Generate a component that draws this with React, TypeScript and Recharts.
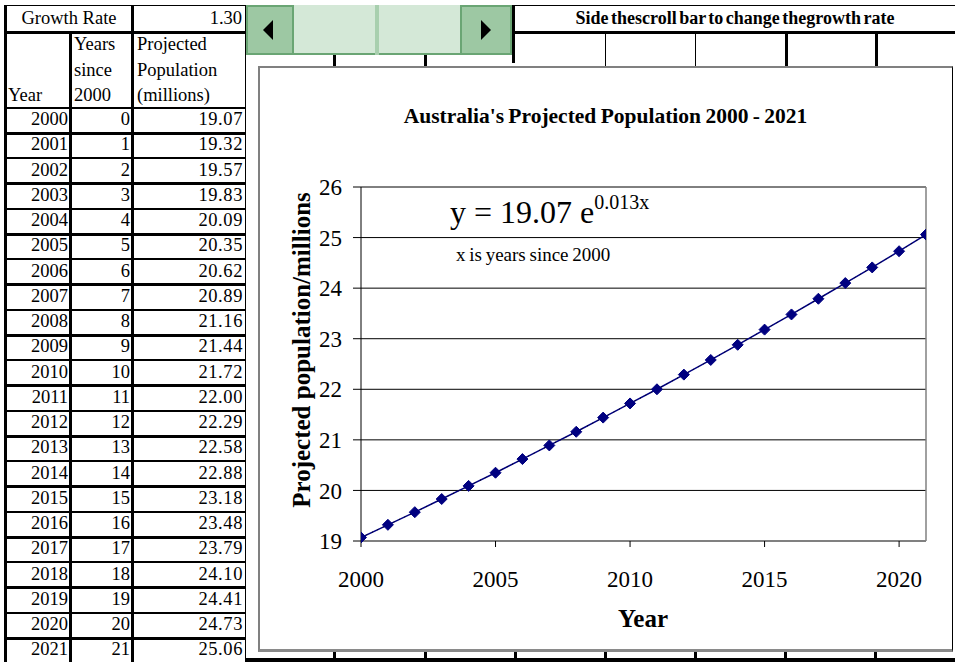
import { LineChart, Line, XAxis, YAxis, CartesianGrid, ReferenceLine } from "recharts";

const YEARS = [2000, 2001, 2002, 2003, 2004, 2005, 2006, 2007, 2008, 2009, 2010, 2011, 2012, 2013, 2014, 2015, 2016, 2017, 2018, 2019, 2020, 2021];
const YEARS_SINCE = [0, 1, 2, 3, 4, 5, 6, 7, 8, 9, 10, 11, 12, 13, 14, 15, 16, 17, 18, 19, 20, 21];
const POPULATION = [19.07, 19.32, 19.57, 19.83, 20.09, 20.35, 20.62, 20.89, 21.16, 21.44, 21.72, 22.0, 22.29, 22.58, 22.88, 23.18, 23.48, 23.79, 24.1, 24.41, 24.73, 25.06];
const X_TICKS = [2000, 2005, 2010, 2015, 2020];
const Y_TICKS = [19, 20, 21, 22, 23, 24, 25, 26];
const GROWTH_RATE = "1.30";

const data = YEARS.map((y, i) => ({ year: y, pop: POPULATION[i] }));

const FONT = '"Liberation Serif", "Times New Roman", serif';
const ROW_TOP = 108;
const ROW_H = 25.25;
const FS = 18.5;

function Diamond({ cx, cy }: any) {
  if (cx == null || cy == null) return null;
  const r = 5.5;
  return (
    <polygon
      points={`${cx},${cy - r} ${cx + r},${cy} ${cx},${cy + r} ${cx - r},${cy}`}
      fill="#000080"
      stroke="#000080"
    />
  );
}

const abs = (left: number, top: number, extra: any = {}) => ({
  position: "absolute" as const,
  left,
  top,
  ...extra,
});

function Table() {
  const cells: any[] = [];
  // grid lines of the sheet
  cells.push(<div key="vl0" style={abs(4, 6, { width: 3, height: 656, background: "#000" })} />);
  cells.push(<div key="vl1" style={abs(69, 31, { width: 3, height: 631, background: "#000" })} />);
  cells.push(<div key="vl2" style={abs(131, 6, { width: 3, height: 656, background: "#000" })} />);
  cells.push(<div key="vl3" style={abs(245, 6, { width: 1, height: 656, background: "#000" })} />);
  cells.push(<div key="top" style={abs(4, 5, { width: 242, height: 1, background: "#000" })} />);
  cells.push(<div key="gr" style={abs(4, 31, { width: 242, height: 3, background: "#000" })} />);
  cells.push(<div key="hd" style={abs(4, ROW_TOP - 1, { width: 242, height: 2, background: "#000" })} />);

  cells.push(
    <div key="grt" style={abs(7, 8, { width: 124, textAlign: "center", fontSize: FS })}>
      Growth Rate
    </div>
  );
  cells.push(
    <div key="grv" style={abs(134, 8, { width: 108, textAlign: "right", fontSize: FS })}>
      {GROWTH_RATE}
    </div>
  );
  const hdr = [
    ["", "Years", "Projected"],
    ["", "since", "Population"],
    ["Year", "2000", "(millions)"],
  ];
  hdr.forEach((row, r) => {
    const top = 34 + r * 25.5;
    cells.push(<div key={`h0${r}`} style={abs(8, top, { fontSize: FS })}>{row[0]}</div>);
    cells.push(<div key={`h1${r}`} style={abs(74, top, { fontSize: FS })}>{row[1]}</div>);
    cells.push(<div key={`h2${r}`} style={abs(137, top, { fontSize: FS })}>{row[2]}</div>);
  });

  YEARS.forEach((y, i) => {
    const top = ROW_TOP + i * ROW_H;
    cells.push(
      <div key={`ry${i}`} style={abs(7, top + 1, { width: 61, textAlign: "right", fontSize: FS })}>{y}</div>
    );
    cells.push(
      <div key={`rs${i}`} style={abs(72, top + 1, { width: 58, textAlign: "right", fontSize: FS })}>{YEARS_SINCE[i]}</div>
    );
    cells.push(
      <div key={`rp${i}`} style={abs(134, top + 1, { width: 109, textAlign: "right", fontSize: FS, letterSpacing: 0.6 })}>
        {POPULATION[i].toFixed(2)}
      </div>
    );
    cells.push(
      <div
        key={`rl${i}`}
        style={abs(4, top + ROW_H - 1.5, { width: 242, height: i % 2 === 0 ? 3 : 2, background: "#000" })}
      />
    );
  });
  return <>{cells}</>;
}

function ScrollBar() {
  const dark = "#9dc8a3";
  const light = "#d4e8d7";
  const edge = "#6aa574";
  return (
    <>
      <div style={abs(246, 5, { width: 266, height: 50, background: light, borderBottom: `2px solid ${edge}`, boxSizing: "border-box" })} />
      <div style={abs(246, 5, { width: 48, height: 50, background: dark, border: `2px solid ${edge}`, boxSizing: "border-box" })} />
      <div style={abs(375, 5, { width: 4, height: 50, background: "#a8cfae" })} />
      <div style={abs(460, 5, { width: 52, height: 50, background: dark, border: `2px solid ${edge}`, boxSizing: "border-box" })} />
      <div
        style={abs(263, 20, {
          width: 0,
          height: 0,
          borderTop: "10px solid transparent",
          borderBottom: "10px solid transparent",
          borderRight: "10px solid #000",
        })}
      />
      <div
        style={abs(481, 20, {
          width: 0,
          height: 0,
          borderTop: "10px solid transparent",
          borderBottom: "10px solid transparent",
          borderLeft: "10px solid #000",
        })}
      />
    </>
  );
}

function SheetGrid() {
  const els: any[] = [];
  els.push(<div key="hb" style={abs(513, 5, { width: 442, height: 1, background: "#000" })} />);
  els.push(<div key="hl" style={abs(512, 5, { width: 3, height: 58, background: "#000" })} />);
  els.push(<div key="hu" style={abs(513, 31, { width: 442, height: 3, background: "#000" })} />);
  els.push(
    <div key="ht" style={abs(515, 8, { width: 440, textAlign: "center", fontSize: 18, fontWeight: "bold", wordSpacing: -2 })}>
      Side thescroll bar to change thegrowth rate
    </div>
  );
  [
    [605, 1],
    [695, 1],
    [785, 3],
    [875, 3],
  ].forEach(([x, w], i) => {
    els.push(<div key={`gv${i}`} style={abs(x, 34, { width: w, height: 32, background: "#000" })} />);
  });
  [333, 424].forEach((x, i) => {
    els.push(<div key={`tt${i}`} style={abs(x, 55, { width: 3, height: 11, background: "#000" })} />);
  });
  [333, 424, 514, 604, 694, 784, 874].forEach((x, i) => {
    els.push(<div key={`bt${i}`} style={abs(x, 652, { width: 3, height: 8, background: "#000" })} />);
  });
  els.push(<div key="bl" style={abs(246, 658, { width: 709, height: 4, background: "#000" })} />);
  return <>{els}</>;
}

export default function App() {
  const tickStyle = { fill: "#000", fontSize: 23, fontFamily: FONT };
  return (
    <div
      style={{
        position: "absolute",
        left: 0,
        top: 0,
        width: 955,
        height: 662,
        background: "#fff",
        fontFamily: FONT,
        color: "#000",
        overflow: "hidden",
      }}
    >
      <Table />
      <ScrollBar />
      <SheetGrid />

      {/* chart object */}
      <div
        style={abs(258, 66, {
          width: 695,
          height: 586,
          background: "#fff",
          borderTop: "2px solid #808080",
          borderLeft: "2px solid #808080",
          borderRight: "1px solid #000",
          borderBottom: "3px solid #8a8a8a",
          boxSizing: "border-box",
        })}
      >
        <div style={abs(-2, -2)}>
          <LineChart width={695} height={586} data={data} margin={{ top: 121, right: 27, bottom: 0, left: 0 }}>
            <CartesianGrid horizontal vertical={false} stroke="#000" strokeWidth={1} />
            <XAxis
              dataKey="year"
              type="number"
              domain={[2000, 2021]}
              ticks={X_TICKS}
              allowDataOverflow
              height={111}
              tick={tickStyle}
              fontSize={23}
              tickSize={6}
              tickMargin={24}
              axisLine={{ stroke: "#808080", strokeWidth: 2 }}
              tickLine={{ stroke: "#000" }}
            />
            <YAxis
              type="number"
              domain={[19, 26]}
              ticks={Y_TICKS}
              width={103}
              tick={tickStyle}
              fontSize={23}
              tickSize={8}
              tickMargin={11}
              axisLine={{ stroke: "#000" }}
              tickLine={{ stroke: "#000" }}
            />
            <ReferenceLine x={2021} stroke="#808080" strokeWidth={1.5} ifOverflow="extendDomain" />
            <Line
              type="linear"
              dataKey="pop"
              stroke="#000080"
              strokeWidth={1.5}
              dot={<Diamond />}
              isAnimationActive={false}
            />
            <Line
              type="linear"
              dataKey="pop"
              stroke="#000"
              strokeWidth={1}
              strokeDasharray="1 5"
              dot={false}
              isAnimationActive={false}
            />
          </LineChart>
        </div>
      </div>

      <div style={abs(258, 104, { width: 695, textAlign: "center", fontSize: 21.5, fontWeight: "bold", wordSpacing: -1 })}>
        Australia's Projected Population 2000 - 2021
      </div>
      <div style={abs(450, 193, { fontSize: 32, whiteSpace: "nowrap" })}>
        y = 19.07 e<sup style={{ fontSize: 20, position: "relative", top: -2 }}>0.013x</sup>
      </div>
      <div style={abs(456, 244, { fontSize: 19, whiteSpace: "nowrap", wordSpacing: -1 })}>x is years since 2000</div>
      <div
        style={abs(302, 350, {
          transform: "translate(-50%, -50%) rotate(-90deg)",
          fontSize: 25,
          fontWeight: "bold",
          whiteSpace: "nowrap",
        })}
      >
        Projected population/millions
      </div>
      <div style={abs(643, 605, { transform: "translateX(-50%)", fontSize: 25, fontWeight: "bold" })}>Year</div>
    </div>
  );
}
